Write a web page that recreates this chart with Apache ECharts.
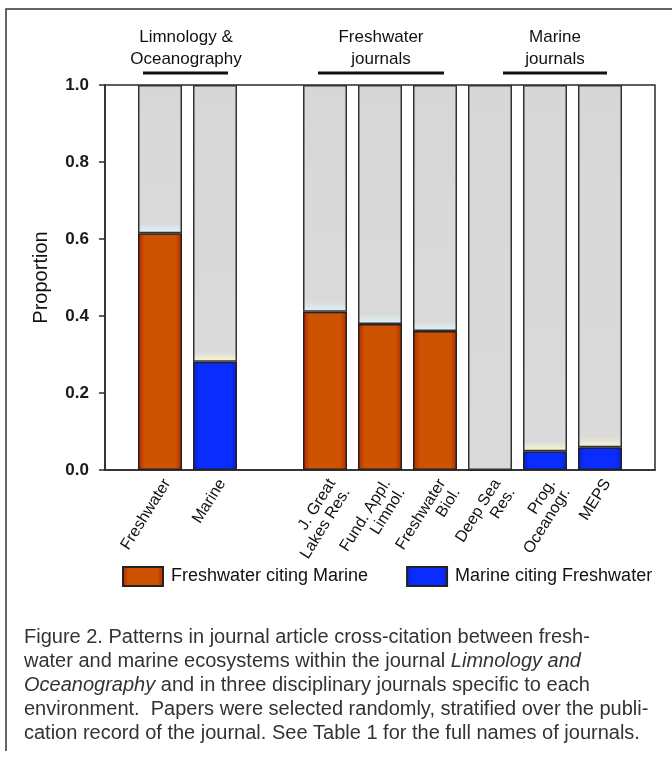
<html>
<head>
    <title>Cross-citation</title>
    <script src="https://cdn.jsdelivr.net/npm/echarts@6/dist/echarts.min.js"></script>
    <style>body{margin:0;background:#fff;}</style>
</head>
<body>
    <div id="main" style="width:672px;height:761px;"></div>
    <script type="text/javascript">
        // journals on the x axis ('' = empty slot)
        var categories = ['', 'Freshwater', 'Marine', '', 'J. Great\nLakes Res.', 'Fund. Appl.\nLimnol.',
            'Freshwater\nBiol.', 'Deep Sea\nRes.', 'Prog.\nOceanogr.', 'MEPS', ''];
        var freshCitingMarine = ['-', 0.615, '-', '-', 0.411, 0.379, 0.361, '-', '-', '-', '-'];
        var marineCitingFresh = ['-', '-', 0.281, '-', '-', '-', '-', 0, 0.049, 0.059, '-'];
        var yTicks = [0, 0.2, 0.4, 0.6, 0.8, 1.0];

        var FONT = "'Liberation Sans', Arial, sans-serif";
        var plotH = 385;

        function hGrad(edge, mid) {
            return new echarts.graphic.LinearGradient(0, 0, 1, 0, [
                {offset: 0, color: edge}, {offset: 0.15, color: mid},
                {offset: 0.85, color: mid}, {offset: 1, color: edge}]);
        }

        // grey remainder on top of each bar
        var rest = categories.map(function (c, i) {
            var f = freshCitingMarine[i], m = marineCitingFresh[i];
            var v = f !== '-' ? f : m;
            if (v === '-') return '-';
            var h = (1 - v) * plotH;
            var pale = f !== '-' ? '#e2f2f9' : '#fbf5d2';
            var stops = [{offset: 0, color: '#d7d7d7'}, {offset: 1, color: '#dadada'}];
            if (v > 0) {
                stops = [{offset: 0, color: '#d7d7d7'}, {offset: 1 - 10 / h, color: '#dadada'},
                    {offset: 1, color: pale}];
            }
            return {
                value: +(1 - v).toFixed(3),
                itemStyle: {color: new echarts.graphic.LinearGradient(0, 0, 0, 1, stops)}
            };
        });

        var capStyle = function (t, y) {
            return {type: 'text', x: 24, y: y, style: {text: t, font: '20px ' + FONT, fill: '#333',
                verticalAlign: 'middle',
                rich: {i: {fontStyle: 'italic', fontSize: 20, fontFamily: FONT, fill: '#333'}}}};
        };

        var myChart = echarts.init(document.getElementById('main'));
        var option = {
            animation: false,
            textStyle: {fontFamily: FONT},
            grid: {left: 105, top: 85, width: 550, height: plotH, show: true,
                borderColor: '#2a2a2a', borderWidth: 1.5, backgroundColor: 'transparent'},
            legend: {
                data: ['Freshwater citing Marine', 'Marine citing Freshwater'],
                icon: 'rect',
                left: 117, top: 556, itemWidth: 40, itemHeight: 19, itemGap: 38,
                textStyle: {fontSize: 18, color: '#111', fontFamily: FONT, padding: [0, 0, 0, 3]}
            },
            xAxis: {
                type: 'category',
                data: categories,
                boundaryGap: false,
                axisLine: {show: true, lineStyle: {color: '#2a2a2a', width: 1.5}},
                axisTick: {show: false},
                splitLine: {show: false},
                axisLabel: {
                    interval: 0, rotate: 58, margin: 6, fontSize: 16, color: '#111',
                    fontFamily: FONT, align: 'right', verticalAlign: 'top', lineHeight: 17
                }
            },
            yAxis: {
                type: 'value', min: 0, max: 1, interval: 0.2,
                name: 'Proportion', nameLocation: 'middle', nameGap: 46, nameMoveOverlap: false,
                nameTextStyle: {fontSize: 20, color: '#111', fontFamily: FONT},
                axisLine: {show: true, lineStyle: {color: '#2a2a2a', width: 1.5}},
                axisTick: {show: true, length: 6, lineStyle: {color: '#2a2a2a', width: 1.5}},
                splitLine: {show: false},
                axisLabel: {
                    margin: 16, fontSize: 17, fontWeight: 'bold', color: '#1a1a1a', fontFamily: FONT,
                    formatter: function (v) { return yTicks.indexOf(v) >= 0 ? v.toFixed(1) : ''; }
                }
            },
            series: [
                {
                    name: 'Freshwater citing Marine', type: 'bar', stack: 'p', barWidth: 44,
                    data: freshCitingMarine,
                    itemStyle: {color: hGrad('#b42400', '#cd5300'), borderColor: '#222', borderWidth: 1.5}
                },
                {
                    name: 'Marine citing Freshwater', type: 'bar', stack: 'p', barWidth: 44,
                    data: marineCitingFresh,
                    itemStyle: {color: hGrad('#0a1fc8', '#0a2cff'), borderColor: '#222', borderWidth: 1.5}
                },
                {
                    name: 'rest', type: 'bar', stack: 'p', barWidth: 44,
                    data: rest,
                    itemStyle: {borderColor: '#333', borderWidth: 1.5}
                }
            ],
            graphic: [
                // outer frame
                {type: 'polyline', shape: {points: [[6, 751], [6, 9], [672, 9]]},
                    style: {stroke: '#333', lineWidth: 1.5, fill: null}},
                // group headings
                {type: 'text', x: 186, y: 48, style: {text: 'Limnology &\nOceanography', font: '17px ' + FONT,
                    fill: '#111', align: 'center', verticalAlign: 'middle', lineHeight: 22}},
                {type: 'text', x: 381, y: 48, style: {text: 'Freshwater\njournals', font: '17px ' + FONT,
                    fill: '#111', align: 'center', verticalAlign: 'middle', lineHeight: 22}},
                {type: 'text', x: 555, y: 48, style: {text: 'Marine\njournals', font: '17px ' + FONT,
                    fill: '#111', align: 'center', verticalAlign: 'middle', lineHeight: 22}},
                {type: 'line', shape: {x1: 143, y1: 73, x2: 228, y2: 73}, style: {stroke: '#111', lineWidth: 3}},
                {type: 'line', shape: {x1: 318, y1: 73, x2: 444, y2: 73}, style: {stroke: '#111', lineWidth: 3}},
                {type: 'line', shape: {x1: 503, y1: 73, x2: 607, y2: 73}, style: {stroke: '#111', lineWidth: 3}},
                // caption
                capStyle('Figure 2. Patterns in journal article cross-citation between fresh-', 637),
                capStyle('water and marine ecosystems within the journal {i|Limnology and}', 661),
                capStyle('{i|Oceanography} and in three disciplinary journals specific to each', 685),
                capStyle('environment.  Papers were selected randomly, stratified over the publi-', 709),
                capStyle('cation record of the journal. See Table 1 for the full names of journals.', 733)
            ]
        };
        myChart.setOption(option);
    </script>
</body>
</html>
